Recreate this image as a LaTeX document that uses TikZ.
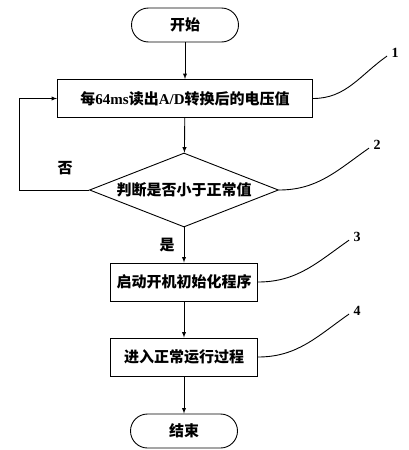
\documentclass[tikz,border=0pt]{standalone}
\usepackage{fontspec}
\setmainfont{Liberation Serif}
\newfontfamily\cjk{Noto Sans CJK SC}
\usetikzlibrary{arrows,shapes.geometric}

\begin{document}
\begin{tikzpicture}[x=1pt,y=-1pt,line width=0.9pt,
  txt/.style={font=\bfseries\fontsize{15}{17}\selectfont},
  term/.style={txt,draw,rounded corners=17pt,minimum width=107pt,minimum height=34pt},
  stepbox/.style={txt,draw,minimum height=38pt},
  decide/.style={txt,draw,diamond,aspect=2.55,minimum width=189pt,minimum height=74pt,inner sep=0pt},
  flow/.style={-latex},
  numlabel/.style={font=\bfseries\fontsize{14}{16}\selectfont,inner sep=1pt}]
\useasboundingbox (0,0) rectangle (409,450);
% flow chart
\node[term] (start) at (185,25) {\cjk 开始};
\node[stepbox,minimum width=255pt] (read) at (185,98.5) {{\cjk 每}64ms{\cjk 读出}A/D{\cjk 转换后的电压值}};
\node[decide] (check) at (184,190) {\cjk 判断是否小于正常值};
\node[stepbox,minimum width=147pt] (boot) at (184,282) {\cjk 启动开机初始化程序};
\node[stepbox,minimum width=147pt] (run) at (184,357) {\cjk 进入正常运行过程};
\node[term] (stop) at (184,431) {\cjk 结束};

\draw[flow] (start) -- (read);
\draw[flow] (read) -- (check);
\draw[flow] (check) -- (boot);
\draw[flow] (boot) -- (run);
\draw[flow] (run) -- (stop);
\draw[flow] (check.west) -- ++(-70,0) |- (read.west);

\node[txt] (no) at (65,168) {\cjk 否};
\node[txt] (yes) at (167,245) {\cjk 是};

% reference numbers
\node[numlabel] (n1) at (395,53) {1};
\node[numlabel] (n2) at (377,145) {2};
\node[numlabel] (n3) at (357,237) {3};
\node[numlabel] (n4) at (357,311) {4};
\draw (read.east) to[out=0,in=215] ([xshift=-3pt,yshift=3pt]n1.south west);
\draw (check.east) to[out=0,in=215] ([xshift=-3pt,yshift=3pt]n2.south west);
\draw (boot.east) to[out=0,in=215] ([xshift=-3pt,yshift=3pt]n3.south west);
\draw (run.east) to[out=0,in=215] ([xshift=-3pt,yshift=3pt]n4.south west);
\end{tikzpicture}
\end{document}
